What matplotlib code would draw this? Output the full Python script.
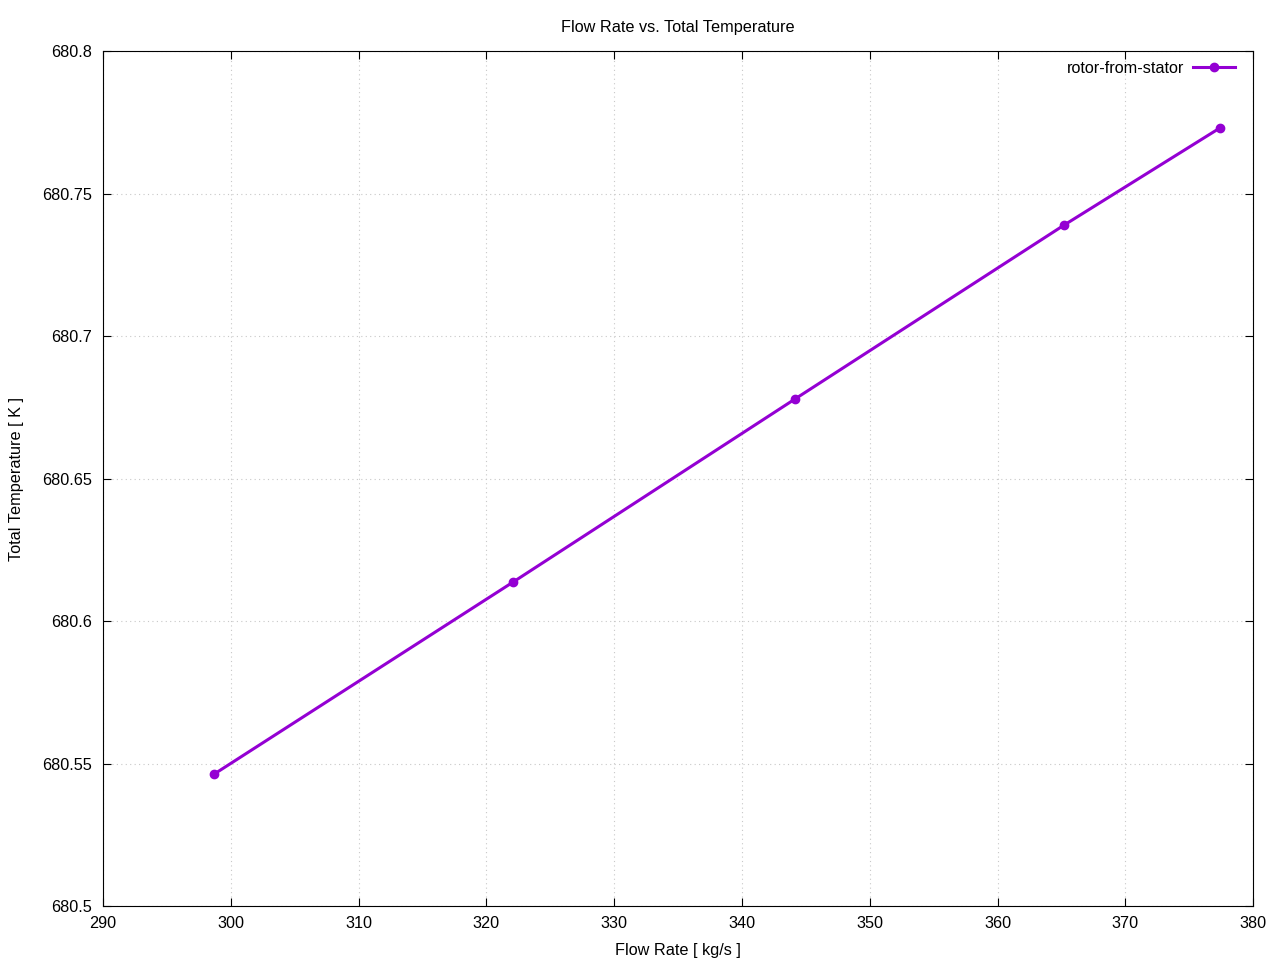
import matplotlib
matplotlib.use("Agg")
import matplotlib.pyplot as plt

plt.rcParams['font.family'] = ['Liberation Sans', 'DejaVu Sans']

flow_rate = [298.7, 322.1, 344.15, 365.2, 377.4]
total_temp = [680.5463, 680.6137, 680.6779, 680.7389, 680.7730]

fs = 11.7

fig = plt.figure(figsize=(12.8, 9.6), dpi=100)
ax = fig.add_axes([0.0805, 0.05625, 0.8985, 0.8906])

ax.plot(flow_rate, total_temp, color="#9400D3", linewidth=2.2,
        marker="o", markersize=6, label="rotor-from-stator")

ax.set_xlim(290, 380)
ax.set_ylim(680.5, 680.8)
ax.set_xticks(range(290, 381, 10))
ax.set_yticks([680.5, 680.55, 680.6, 680.65, 680.7, 680.75, 680.8])
ax.set_yticklabels(["680.5", "680.55", "680.6", "680.65", "680.7", "680.75", "680.8"])
ax.tick_params(direction="in", top=True, right=True, labelsize=fs, length=6)
ax.tick_params(axis="x", pad=7.5)
ax.tick_params(axis="y", pad=8.2)
ax.grid(True, linestyle=(0, (1, 3)), color="#c8c8c8", linewidth=0.8)

ax.set_title("Flow Rate vs. Total Temperature", fontsize=fs, pad=13.5)
ax.set_xlabel("Flow Rate [ kg/s ]", fontsize=fs, labelpad=8)
ax.set_ylabel("Total Temperature [ K ]", fontsize=fs, labelpad=12.5)

ax.legend(loc="upper right", bbox_to_anchor=(0.9955, 1.0035), frameon=False,
          markerfirst=False, fontsize=fs, handlelength=2.6, handletextpad=0.55,
          borderaxespad=0.3, borderpad=0.5)

fig.savefig("out.png", dpi=100)
